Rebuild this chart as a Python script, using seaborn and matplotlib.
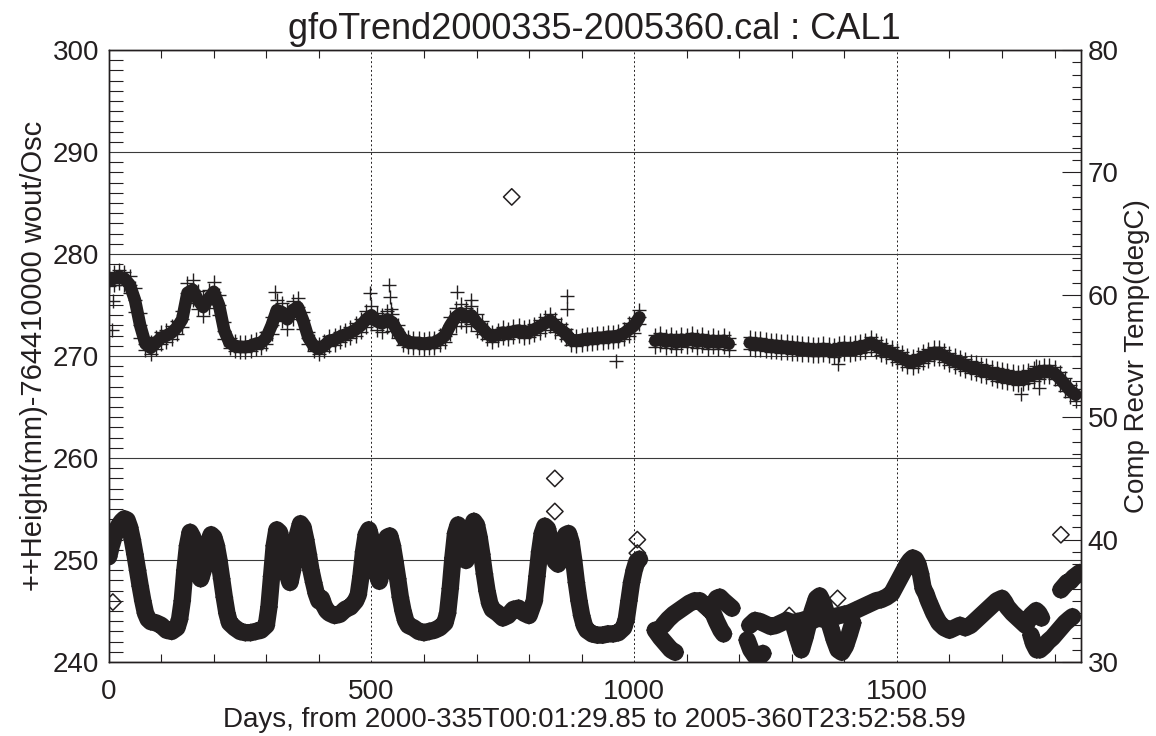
import numpy as np
import pandas as pd
import seaborn as sns
import matplotlib.pyplot as plt
from matplotlib.ticker import MultipleLocator

# Height trend (left axis), one reading per 10 days, with the visible scatter half-width
height_days = [
    0, 10, 20, 30, 40, 50, 60, 70, 80, 90, 100, 110, 120, 130, 140, 150, 160, 170, 180, 190,
    200, 210, 220, 230, 240, 250, 260, 270, 280, 290, 300, 310, 320, 330, 340, 350, 360, 370,
    380, 390, 400, 410, 420, 430, 440, 450, 460, 470, 480, 490, 500, 510, 520, 530, 540, 550,
    560, 570, 580, 590, 600, 610, 620, 630, 640, 650, 660, 670, 680, 690, 700, 710, 720, 730,
    740, 750, 760, 770, 780, 790, 800, 810, 820, 830, 840, 850, 860, 870, 880, 890, 900, 910,
    920, 930, 940, 950, 960, 970, 980, 990, 1000, 1010,
    1040, 1050, 1060, 1070, 1080, 1090, 1100, 1110, 1120, 1130, 1140, 1150, 1160, 1170, 1180,
    1220, 1230, 1240, 1250, 1260, 1270, 1280, 1290, 1300, 1310, 1320, 1330, 1340, 1350, 1360,
    1370, 1380, 1390, 1400, 1410, 1420, 1430, 1440, 1450, 1460, 1470, 1480, 1490, 1500, 1510,
    1520, 1530, 1540, 1550, 1560, 1570, 1580, 1590, 1600, 1610, 1620, 1630, 1640, 1650, 1660,
    1670, 1680, 1690, 1700, 1710, 1720, 1730, 1740, 1750, 1760, 1770, 1780, 1790, 1800, 1810,
    1820, 1830, 1840,
]
height_mm = [
    277.5, 277.6, 277.8, 277.6, 277.0, 275.5, 273.0, 271.2, 270.8, 271.3, 271.8, 272.0, 272.3,
    272.8, 273.6, 276.2, 276.5, 275.5, 274.8, 275.6, 276.3, 275.0, 272.5, 271.3, 271.0, 270.9,
    270.9, 271.0, 271.2, 271.3, 271.8, 273.0, 274.5, 274.3, 273.6, 274.5, 274.8, 273.5, 271.8,
    271.0, 270.7, 271.0, 271.5, 271.6, 271.9, 272.1, 272.3, 272.6, 273.0, 273.6, 274.0, 273.4,
    273.2, 273.6, 273.3, 272.4, 271.6, 271.4, 271.3, 271.3, 271.2, 271.3, 271.3, 271.6, 272.0,
    273.0, 273.8, 274.2, 273.8, 274.0, 273.3, 272.8, 272.2, 271.9, 272.1, 272.3, 272.2, 272.4,
    272.5, 272.3, 272.4, 272.6, 272.9, 273.2, 273.5, 273.0, 272.6, 272.2, 271.6, 271.5, 271.6,
    271.7, 271.7, 271.8, 271.8, 271.9, 271.9, 272.0, 272.2, 272.6, 273.0, 273.8,
    271.5, 271.7, 271.4, 271.6, 271.3, 271.6, 271.5, 271.7, 271.4, 271.6, 271.3, 271.5, 271.3,
    271.5, 271.2,
    271.3, 271.2, 271.2, 271.1, 271.0, 271.0, 270.9, 270.9, 270.8, 270.8, 270.7, 270.7, 270.6,
    270.6, 270.7, 270.6, 270.5, 270.7, 270.8, 270.7, 270.8, 270.9, 271.0, 271.3, 271.0, 270.7,
    270.5, 270.3, 270.0, 269.8, 269.5, 269.4, 269.6, 269.9, 270.1, 270.3, 270.3, 270.0, 269.7,
    269.5, 269.3, 269.1, 268.9, 268.8, 268.6, 268.5, 268.3, 268.2, 268.1, 268.0, 267.9, 267.8,
    267.9, 268.0, 268.2, 268.3, 268.5, 268.5, 268.3, 267.8, 267.2, 266.6, 266.2,
]
height_spread = [
    0.6, 0.6, 0.6, 0.6, 0.8, 1.2, 1.2, 0.6, 0.6, 0.6, 0.6, 0.6, 0.6, 0.6, 0.8, 1.0, 1.0, 0.9,
    0.9, 0.9, 1.0, 1.0, 0.8, 0.5, 0.5, 0.5, 0.5, 0.5, 0.5, 0.5, 0.6, 0.8, 1.0, 0.9, 0.9, 0.9,
    0.9, 0.8, 0.6, 0.5, 0.5, 0.5, 0.5, 0.5, 0.5, 0.5, 0.5, 0.6, 0.6, 0.8, 0.9, 0.8, 0.8, 0.8,
    0.8, 0.6, 0.5, 0.5, 0.5, 0.5, 0.5, 0.5, 0.5, 0.5, 0.6, 0.8, 0.9, 0.9, 0.9, 0.9, 0.8, 0.6,
    0.5, 0.5, 0.5, 0.5, 0.5, 0.5, 0.5, 0.5, 0.5, 0.5, 0.6, 0.6, 0.6, 0.6, 0.5, 0.5, 0.5, 0.5,
    0.5, 0.5, 0.5, 0.5, 0.5, 0.5, 0.5, 0.5, 0.5, 0.6, 0.7, 0.7,
    0.6, 0.6, 0.6, 0.6, 0.6, 0.6, 0.6, 0.6, 0.6, 0.6, 0.6, 0.6, 0.6, 0.6, 0.6,
    0.6, 0.6, 0.6, 0.6, 0.6, 0.6, 0.6, 0.6, 0.6, 0.6, 0.6, 0.6, 0.6, 0.6, 0.6, 0.6, 0.6, 0.6,
    0.6, 0.6, 0.6, 0.6, 0.6, 0.6, 0.6, 0.6, 0.6, 0.6, 0.6, 0.6, 0.6, 0.6, 0.6, 0.6, 0.6, 0.6,
    0.6, 0.6, 0.6, 0.6, 0.6, 0.6, 0.6, 0.6, 0.6, 0.6, 0.6, 0.6, 0.6, 0.6, 0.6, 0.6, 0.6, 0.6,
    0.6, 0.6, 0.6, 0.6, 0.6, 0.6, 0.6, 0.6, 0.6,
]
# the height record breaks twice; these are the lengths of the unbroken runs
height_run_sizes = [102, 15, 63]

# isolated height readings off the main band
height_odd_days = [6, 8, 316, 497, 533, 535, 537, 662, 690, 873, 873, 966, 1387, 1737, 1765, 1770]
height_odd_mm = [272.6, 275.4, 276.3, 276.2, 277.0, 275.8, 274.6, 276.3, 275.5, 275.9, 274.6,
                 269.5, 269.2, 266.3, 269.0, 266.9]

# Comp receiver temperature (right axis)
temp_days = [
    # first three years, one unbroken run
    0, 5, 10, 15, 20, 25, 30, 35, 40, 45, 50, 55, 60, 65, 70, 75, 80, 90, 100, 110, 120, 130,
    135, 140, 145, 150, 155, 160, 165, 170, 175, 180, 185, 190, 195, 200, 205, 210, 215, 220,
    225, 230,
    240, 250, 260, 270, 280, 290, 300,
    305, 310, 315, 320, 325, 330, 335, 340, 345, 350, 355, 360, 365, 370, 375, 380, 385, 390,
    395, 400, 405, 410, 415,
    420, 430, 440, 450, 460, 470,
    475, 480, 485, 490, 495, 500, 505, 510, 515, 520, 525, 530, 535, 540, 545, 550, 555, 560,
    565,
    570, 580, 590, 600, 610, 620, 630, 640,
    645, 650, 655, 660, 665, 670, 675, 680, 685, 690, 695, 700, 705, 710, 715, 720, 725,
    730, 740, 750, 760, 770, 780, 790, 800,
    810, 815, 820, 825, 830, 835, 840, 845, 850, 855, 860, 865, 870, 875, 880, 885, 890, 895,
    900, 905,
    910, 920, 930, 940, 950, 960, 970, 980,
    985, 990, 995, 1000, 1005, 1010,
    # low chunk after the first break
    1040, 1050, 1060, 1070, 1078,
    # arc
    1055, 1065, 1075, 1085, 1095, 1105, 1115, 1125, 1135, 1143, 1150, 1157, 1163, 1170, 1178,
    1186,
    # hook off the arc
    1143, 1150, 1157, 1165, 1170,
    # low blob after the second break
    1215, 1222, 1230, 1238, 1245,
    # dip-and-peak branch around day 1350
    1305, 1312, 1318, 1325, 1332, 1340, 1347, 1353, 1360, 1367, 1374, 1381, 1388, 1395, 1402,
    1409, 1416,
    # main run of the last two years
    1220, 1230, 1240, 1250, 1260, 1270, 1280, 1290, 1300, 1310, 1320, 1330, 1340, 1350, 1360,
    1370, 1380, 1390, 1400, 1410, 1420, 1430, 1440, 1450, 1460, 1470, 1480,
    1490, 1495, 1500, 1505, 1510, 1515, 1520, 1525, 1530, 1535, 1540, 1545, 1550, 1555, 1560,
    1565, 1570, 1575, 1580, 1590, 1600, 1610, 1620, 1630, 1640, 1650, 1660, 1670, 1680, 1690,
    1700, 1705, 1710, 1720, 1730, 1740, 1745,
    1750, 1755, 1760, 1765, 1770, 1775,
    # low run at the end
    1755, 1760, 1766, 1772, 1780, 1788, 1796, 1804, 1812, 1820, 1828, 1834,
    # upper run at the end
    1812, 1818, 1824, 1830, 1836, 1842, 1848,
]
temp_degc = [
    38.6, 39.5, 40.2, 40.8, 41.2, 41.5, 41.7, 41.6, 41.0, 40.0, 38.8, 37.5, 36.2, 35.0, 34.0,
    33.5, 33.3, 33.2, 33.0, 32.6, 32.5, 32.8,
    33.5, 35.0, 37.5, 39.5, 40.6, 40.2, 39.0, 37.6, 36.8, 37.5, 38.8, 39.8, 40.4, 40.2, 39.5,
    38.3, 36.8, 35.3, 34.0, 33.2,
    32.8, 32.5, 32.4, 32.4, 32.5, 32.6, 33.0,
    34.5, 37.0, 39.5, 40.8, 40.6, 39.8, 38.5, 37.2, 36.5, 37.5, 39.0, 40.5, 41.3, 41.0, 40.0,
    38.8, 37.5, 36.5, 35.6, 35.0, 35.2, 34.6, 34.2,
    34.0, 33.8, 33.9, 34.3, 34.5, 35.0,
    35.5, 37.0, 39.0, 40.4, 40.8, 40.0, 38.8, 37.3, 36.6, 37.5, 39.0, 40.2, 40.3, 39.5, 38.2,
    36.8, 35.3, 34.2, 33.4,
    33.0, 32.8, 32.5, 32.4, 32.5, 32.6, 32.8, 33.2,
    34.0, 36.0, 38.5, 40.5, 41.2, 40.5, 39.2, 38.3, 39.5, 40.8, 41.5, 41.2, 40.2, 38.8, 37.2,
    35.8, 34.8,
    34.3, 34.0, 33.6, 33.8, 34.3, 34.4, 34.0, 33.8,
    35.0, 37.0, 39.0, 40.5, 41.1, 40.9, 40.0, 39.0, 38.2, 38.0, 38.8, 39.8, 40.4, 40.5, 39.8,
    38.3, 36.5, 35.0, 33.8, 33.0,
    32.6, 32.3, 32.2, 32.2, 32.3, 32.3, 32.4, 32.8,
    33.5, 35.0, 36.5, 37.5, 38.2, 38.4,
    32.6, 32.0, 31.5, 31.0, 30.8,
    33.0, 33.5, 33.9, 34.2, 34.5, 34.8, 35.0, 35.0, 34.6, 34.3, 34.7, 35.2, 35.3, 35.0, 34.7,
    34.4,
    34.3, 34.0, 33.3, 32.6, 32.3,
    31.8, 31.0, 30.5, 30.4, 30.7,
    32.8, 31.8, 31.0, 32.0, 33.2, 34.3, 35.2, 35.4, 34.8, 33.8, 32.8, 31.8, 31.0, 30.8, 31.3,
    32.2, 33.2,
    33.0, 33.4, 33.3, 33.1, 32.9, 33.0, 33.2, 33.4, 33.2, 33.3, 33.4, 33.5, 33.4, 33.6, 33.5,
    33.6, 33.7, 33.8, 33.9, 34.0, 34.2, 34.4, 34.6, 34.8, 35.0, 35.1, 35.3,
    35.6, 36.0, 36.4, 36.8, 37.2, 37.6, 38.0, 38.3, 38.5, 38.4, 38.0, 37.2, 36.0, 35.6, 35.0,
    34.5, 34.0, 33.6, 33.2, 32.8, 32.6, 32.8, 33.0, 32.8, 33.0, 33.4, 33.8, 34.2, 34.6, 35.0,
    35.2, 34.9, 34.5, 34.0, 33.6, 33.2, 33.0,
    33.4, 33.8, 34.0, 34.2, 34.0, 33.6,
    32.2, 31.5, 31.0, 31.0, 31.3, 31.7, 32.0, 32.4, 32.8, 33.2, 33.5, 33.7,
    35.9, 36.2, 36.5, 36.6, 36.9, 37.1, 37.3,
]
temp_run_sizes = [164, 5, 16, 5, 5, 17, 70, 12, 7]

temp_odd_days = [8, 767, 849, 849, 1006, 1006, 1295, 1387, 1812]
temp_odd_degc = [34.9, 68.0, 45.0, 42.3, 40.0, 38.9, 33.8, 35.2, 40.4]

ink = '#231f20'

height = pd.DataFrame({'day': height_days, 'mm': height_mm, 'spread': height_spread})
height['run'] = np.repeat(np.arange(len(height_run_sizes)), height_run_sizes)
height_band = pd.concat([
    height.assign(mm=height['mm'] - height['spread']),
    height,
    height.assign(mm=height['mm'] + height['spread']),
    pd.DataFrame({'day': height_odd_days, 'mm': height_odd_mm}),
])

temp = pd.DataFrame({'day': temp_days, 'degc': temp_degc})
temp['run'] = np.repeat(np.arange(len(temp_run_sizes)), temp_run_sizes)
temp_all = pd.concat([temp, pd.DataFrame({'day': temp_odd_days, 'degc': temp_odd_degc})])

sns.set_theme(style='white')
plt.rcParams['font.family'] = ['Liberation Sans', 'DejaVu Sans']
plt.rcParams['axes.edgecolor'] = ink
plt.rcParams['axes.linewidth'] = 1.0

fig, ax = plt.subplots(figsize=(11.56, 7.36), dpi=100)
fig.subplots_adjust(left=0.094, right=0.935, bottom=0.1005, top=0.932)
ax2 = ax.twinx()

# thousands of overlapping symbols in the original merge into a solid band;
# a wide stroke under the symbols gives the same solid body
line_kw = dict(estimator=None, sort=False, color=ink, legend=False,
               solid_capstyle='round', solid_joinstyle='round')
sns.lineplot(data=height, x='day', y='mm', units='run', linewidth=9, ax=ax, **line_kw)
sns.scatterplot(data=height_band, x='day', y='mm', marker='+', s=115, color=ink,
                linewidth=1.0, ax=ax, legend=False)
sns.lineplot(data=temp, x='day', y='degc', units='run', linewidth=12.5, ax=ax2, **line_kw)
sns.scatterplot(data=temp_all, x='day', y='degc', marker='D', s=70, facecolor='none',
                edgecolor=ink, linewidth=1.1, ax=ax2, legend=False)

ax.set_xlim(0, 1850)
ax.set_ylim(240, 300)
ax2.set_ylim(30, 80)

ax.xaxis.set_major_locator(MultipleLocator(500))
ax.xaxis.set_minor_locator(MultipleLocator(100))
ax.yaxis.set_major_locator(MultipleLocator(10))
ax.yaxis.set_minor_locator(MultipleLocator(1))
ax2.yaxis.set_major_locator(MultipleLocator(10))
ax2.yaxis.set_minor_locator(MultipleLocator(1))

ax.grid(axis='x', which='major', color=ink, linestyle=(0, (2, 2.5)), linewidth=0.7)
ax.grid(axis='y', which='major', color='#3a3a3a', linestyle='-', linewidth=0.8)

ax.tick_params(axis='x', which='both', direction='in', top=True, bottom=True,
               colors=ink, labelsize=20, pad=12)
ax.tick_params(axis='x', which='major', length=0)
ax.tick_params(axis='x', which='minor', length=5.8, width=0.8)
ax.tick_params(axis='y', which='both', direction='in', left=True, right=False,
               colors=ink, labelsize=20, pad=7)
ax.tick_params(axis='y', which='major', length=0)
ax.tick_params(axis='y', which='minor', length=10, width=0.8)
ax2.tick_params(axis='y', which='both', direction='in', right=True, left=False,
                colors=ink, labelsize=20, pad=5)
ax2.tick_params(axis='y', which='major', length=14, width=0.8)
ax2.tick_params(axis='y', which='minor', length=6.5, width=0.8)

for spine in list(ax.spines.values()) + list(ax2.spines.values()):
    spine.set_visible(True)
    spine.set_color(ink)

ax.set_xlabel('Days, from 2000-335T00:01:29.85 to 2005-360T23:52:58.59',
              fontsize=20, color=ink, labelpad=2)
ax.set_ylabel('++Height(mm)-764410000 wout/Osc', fontsize=21, color=ink, labelpad=3)
ax2.set_ylabel('Comp Recvr Temp(degC)', fontsize=20, color=ink, labelpad=4)
ax.set_title('gfoTrend2000335-2005360.cal : CAL1', fontsize=26, color=ink, pad=8)

fig.savefig('out.png', dpi=100)
